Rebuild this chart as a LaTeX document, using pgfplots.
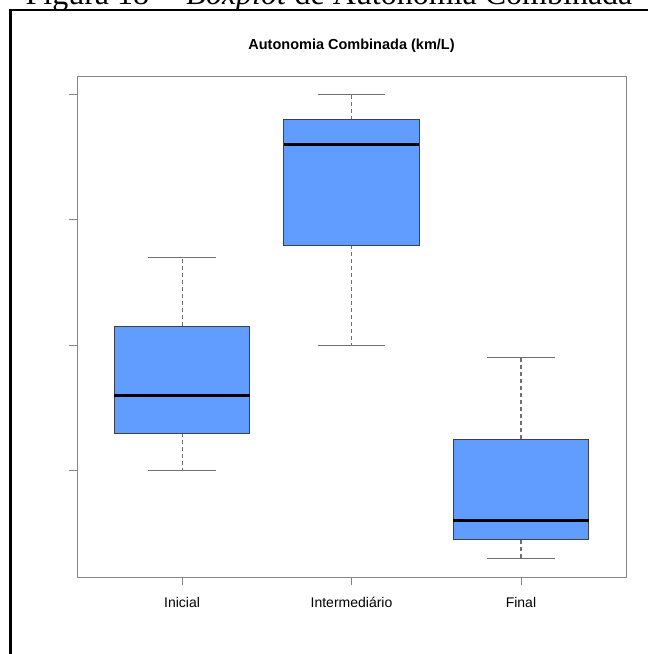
\documentclass[border=0pt]{standalone}
\usepackage{pgfplots}
\pgfplotsset{compat=1.18}
\usepackage{fontspec}
\setmainfont{Liberation Sans}
\newfontfamily\capfont{Liberation Serif}

\definecolor{boxblue}{HTML}{619CFF}
\definecolor{axisgray}{HTML}{858585}
\definecolor{whiskgray}{HTML}{707070}

% five-number summaries: position, lower whisker, Q1, median, Q3, upper whisker
\pgfplotstableread{
pos  lw     q1     med    q3     uw
1    10.00  10.30  10.60  11.15  11.70
2    11.00  11.80  12.60  12.80  13.00
3     9.30   9.45   9.60  10.25  10.90
}\stats

\pgfplotsset{
  whisk/.style={whiskgray, line width=1.1bp, dash pattern=on 4bp off 3bp},
  cap/.style={whiskgray, line width=1.1bp},
  box/.style={fill=boxblue, draw=black!75, line width=0.9bp},
  med/.style={black, line width=2.8bp},
}

\begin{document}
\begin{tikzpicture}
\useasboundingbox (0,0) rectangle (648bp,654bp);
\clip (0,0) rectangle (648bp,654bp);
\fill[white] (0,0) rectangle (648bp,654bp);

% figure caption and frame
\node[anchor=base, inner sep=0pt, font=\capfont\fontsize{32bp}{36bp}\selectfont]
  at (329bp,649.5bp) {Figura 18 -- \textit{Boxplot} de Autonomia Combinada};
\draw[line width=2.2bp] (10.5bp,-10bp) -- (10.5bp,644bp) -- (660bp,644bp);

% chart title
\node[font=\bfseries\fontsize{14.5bp}{17bp}\selectfont] at (351.5bp,608.5bp)
  {Autonomia Combinada (km/L)};

\begin{axis}[
  at={(77bp,77bp)}, anchor=south west,
  scale only axis, width=549bp, height=501bp,
  xmin=0.38, xmax=3.62, ymin=9.152, ymax=13.148,
  xtick={1,2,3}, xticklabels={Inicial,Intermediário,Final},
  ytick={10,11,12,13}, yticklabels={},
  xtick pos=lower, ytick pos=left,
  tick align=outside, major tick length=8bp,
  axis line style={axisgray, line width=0.9bp},
  tick style={axisgray, line width=0.9bp},
  xticklabel style={font=\fontsize{14bp}{17bp}\selectfont, yshift=-9bp},
]
% Inicial
\addplot[whisk] coordinates {(1,11.15) (1,11.70)};
\addplot[whisk] coordinates {(1,10.30) (1,10.00)};
\addplot[cap] coordinates {(0.8,11.70) (1.2,11.70)};
\addplot[cap] coordinates {(0.8,10.00) (1.2,10.00)};
\addplot[box] coordinates {(0.6,10.30) (1.4,10.30) (1.4,11.15) (0.6,11.15)} -- cycle;
\addplot[med] coordinates {(0.6,10.60) (1.4,10.60)};
% Intermediario
\addplot[whisk] coordinates {(2,12.80) (2,13.00)};
\addplot[whisk] coordinates {(2,11.80) (2,11.00)};
\addplot[cap] coordinates {(1.8,13.00) (2.2,13.00)};
\addplot[cap] coordinates {(1.8,11.00) (2.2,11.00)};
\addplot[box] coordinates {(1.6,11.80) (2.4,11.80) (2.4,12.80) (1.6,12.80)} -- cycle;
\addplot[med] coordinates {(1.6,12.60) (2.4,12.60)};
% Final
\addplot[whisk] coordinates {(3,10.25) (3,10.90)};
\addplot[whisk] coordinates {(3,9.45) (3,9.30)};
\addplot[cap] coordinates {(2.8,10.90) (3.2,10.90)};
\addplot[cap] coordinates {(2.8,9.30) (3.2,9.30)};
\addplot[box] coordinates {(2.6,9.45) (3.4,9.45) (3.4,10.25) (2.6,10.25)} -- cycle;
\addplot[med] coordinates {(2.6,9.60) (3.4,9.60)};
\end{axis}
\end{tikzpicture}
\end{document}
